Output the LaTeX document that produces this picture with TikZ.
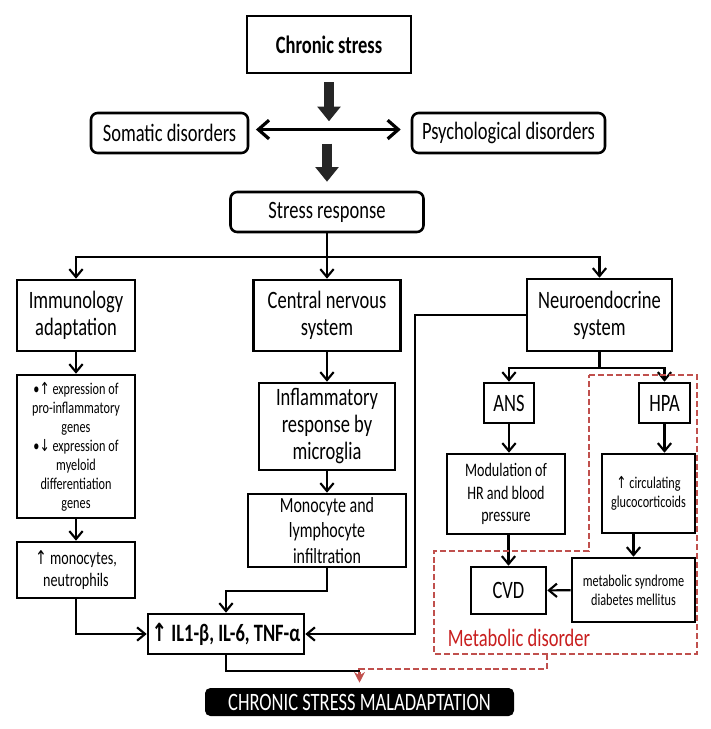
\documentclass[tikz,border=0pt]{standalone}
\usepackage{fontspec}
\setmainfont{Carlito}[FakeStretch=0.74]
\newfontfamily\arrfont{DejaVu Sans}[FakeStretch=0.74]
\usetikzlibrary{arrows.meta}

\definecolor{mdred}{RGB}{192,80,77}
\definecolor{mdtext}{RGB}{200,30,30}
\newcommand\fmain{\fontsize{18.75}{20.25}\selectfont}
\newcommand\fmid{\fontsize{16.2}{19.3}\selectfont}
\newcommand\fsm{\fontsize{14.3}{16.9}\selectfont}
\newcommand\ftiny{\fontsize{12.4}{14.25}\selectfont}
\newcommand\arrup{{\arrfont ↑}}
\newcommand\arrdn{{\arrfont ↓}}

\begin{document}
\begin{tikzpicture}[x=0.75pt, y=-0.75pt,
	box/.style={draw, line width=1.9pt, align=center, inner sep=1pt, font=\fmain},
	rbox/.style={box, rounded corners=5pt},
	wh/.style 2 args={minimum width=#1*0.75pt, minimum height=#2*0.75pt},
	ln/.style={line width=1.6pt},
	>={Straight Barb[length=6pt,width=10pt]},
	fat/.style={line width=8pt, draw=black!85, -{Triangle[width=17pt,length=11pt]}},
	dbl/.style={line width=2.4pt, {Straight Barb[length=8pt,width=14pt]}-{Straight Barb[length=8pt,width=14pt]}},
	md/.style={draw=mdred, line width=2.1pt, dash pattern=on 4.5pt off 2.2pt}]
	\useasboundingbox (0,0) rectangle (711,729);

	\node[box, wh={164}{57}, font=\fmain\bfseries] (cs) at (329,44.5) {Chronic stress};
	\node[rbox, wh={157}{40}] (som) at (169.5,133) {Somatic disorders};
	\node[rbox, wh={193}{40}] (psy) at (508.5,133) {Psychological disorders};
	\node[rbox, wh={193}{40}] (sr) at (327,212) {Stress response};

	\node[box, wh={118}{71}] (imm) at (76,315.5) {Immunology\\adaptation};
	\node[box, wh={147}{71}] (cns) at (327,315.5) {Central nervous\\system};
	\node[box, wh={145}{72}] (neu) at (599.5,315) {Neuroendocrine\\system};

	\node[box, wh={118}{143}, font=\ftiny] (gen) at (76,446.5) {•\arrup{} expression of\\pro-inflammatory\\genes\\•\arrdn{} expression of\\myeloid\\differentiation\\genes};
	\node[box, wh={118}{56}, font=\fsm] (mon) at (76,570) {\arrup{} monocytes,\\neutrophils};
	\node[box, wh={136}{87}] (infl) at (327,426.5) {Inflammatory\\response by\\microglia};
	\node[box, wh={158}{73}, font=\fmid] (lym) at (327,530.5) {Monocyte and\\lymphocyte\\infiltration};
	\node[box, wh={156}{40}, font=\fmain\bfseries] (il) at (226,634) {\arrup{} IL1-β, IL-6, TNF-α};

	\node[box, wh={50}{40}] (ans) at (509,403) {ANS};
	\node[box, wh={51}{40}] (hpa) at (664.5,403) {HPA};
	\node[box, wh={118}{80}, font=\fsm] (mod) at (506,494) {Modulation of\\HR and blood\\pressure};
	\node[box, wh={93}{79}, font=\ftiny] (glu) at (648.5,493.5) {\arrup{} circulating\\glucocorticoids};
	\node[box, wh={123}{64}, font=\ftiny] (met) at (633.5,590) {metabolic syndrome\\diabetes mellitus};
	\node[box, wh={75}{47}] (cvd) at (508.5,590.5) {CVD};
	\node[text=mdtext, font=\fmain] (mdlab) at (519,638) {Metabolic disorder};

	\node[fill=black, text=white, rounded corners=4pt, wh={309}{28}, inner sep=0pt, font=\fmain] (mal) at (359.5,702) {CHRONIC STRESS MALADAPTATION};

	% top
	\draw[fat] (cs.south) ++(0,8) -- ++(0,39);
	\draw[dbl, shorten <=5pt, shorten >=7.5pt] ([yshift=2.6pt]som.east) -- ([yshift=2.6pt]psy.west);
	\draw[fat] (sr.north) ++(0,-47) -- ++(0,38);

	\draw[ln] (sr.south) -- ++(0,24) coordinate (srs);
	\draw[ln,->] (srs) -| (imm.north);
	\draw[ln,->] (srs) -- (cns.north);
	\draw[ln,->] (srs) -| (neu.north);

	% columns
	\draw[ln,->] (imm) -- (gen);
	\draw[ln,->] (gen) -- (mon);
	\draw[ln,->] (cns) -- (infl);
	\draw[ln,->] (infl) -- (lym);
	\draw[ln,->] (mon.south) |- (il.west);
	\draw[ln,->] (lym.south) -- ++(0,23) -| (il.north);
	\draw[ln,->] (neu.west) -- ++(-111,0) |- (il.east);

	\draw[ln] (neu.south) -- ++(0,16) coordinate (neus);
	\draw[ln,->] (neus) -| (ans.north);
	\draw[ln,->] (neus) -| (hpa.north);
	\draw[ln,->] (ans.south) -- (ans.south |- mod.north);
	\draw[ln,->] (hpa.south) -- (hpa.south |- glu.north);
	\draw[ln,->] (mod.south -| cvd.north) -- (cvd.north);
	\draw[ln,->] (glu.south -| met.north) -- (met.north);
	\draw[ln,->] (met) -- (cvd);

	% to the bottom
	\draw[ln] (il.south) |- ([yshift=12.75pt]mal.north);
	\draw[md] (589,375) -- (697,375) -- (697,654) -- (434,654) -- (434,551) -- (589,551) -- cycle;
	\coordinate (mdb) at (547,654);
	\draw[md, -{Stealth[length=8pt,width=8pt]}] (mdb) -- ++(0,15) -| ([yshift=3.75pt]mal.north);
\end{tikzpicture}
\end{document}
